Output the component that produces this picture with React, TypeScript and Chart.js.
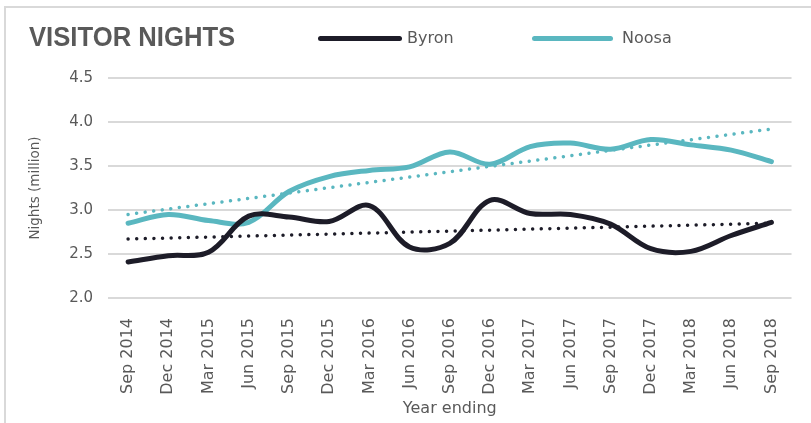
import React, { useEffect, useRef } from 'react';
import { Chart, registerables } from 'chart.js';

Chart.register(...registerables);

const categories = [
  'Sep 2014', 'Dec 2014', 'Mar 2015', 'Jun 2015', 'Sep 2015', 'Dec 2015',
  'Mar 2016', 'Jun 2016', 'Sep 2016', 'Dec 2016', 'Mar 2017', 'Jun 2017',
  'Sep 2017', 'Dec 2017', 'Mar 2018', 'Jun 2018', 'Sep 2018',
];

const byron = [2.41, 2.48, 2.52, 2.93, 2.92, 2.87, 3.05, 2.58, 2.62, 3.11, 2.96, 2.95, 2.84, 2.56, 2.53, 2.71, 2.86];
const noosa = [2.85, 2.95, 2.88, 2.86, 3.21, 3.38, 3.45, 3.49, 3.66, 3.52, 3.72, 3.76, 3.69, 3.8, 3.74, 3.68, 3.55];

// Linear trendlines: value at first and last category
const byronTrendEnds = [2.67, 2.85];
const noosaTrendEnds = [2.95, 3.92];

const yMin = 2.0;
const yMax = 4.5;
const yStep = 0.5;

const BYRON = '#1d1c28';
const NOOSA = '#5ab7c0';
const GREY = '#595959';
const GRID = '#d9d9d9';

const trend = (ends: number[]) =>
  categories.map((_, i) => (i === 0 ? ends[0] : i === categories.length - 1 ? ends[1] : null));

export default function App() {
  const ref = useRef<HTMLCanvasElement>(null);

  useEffect(() => {
    const chart = new Chart(ref.current as HTMLCanvasElement, {
      type: 'line',
      data: {
        labels: categories,
        datasets: [
          {
            label: 'Byron trend',
            data: trend(byronTrendEnds),
            borderColor: BYRON,
            borderWidth: 3.5,
            borderDash: [0.01, 8.6],
            borderCapStyle: 'round',
            spanGaps: true,
            pointRadius: 0,
            tension: 0,
            order: 0,
          },
          {
            label: 'Noosa trend',
            data: trend(noosaTrendEnds),
            borderColor: NOOSA,
            borderWidth: 3.5,
            borderDash: [0.01, 8.6],
            borderCapStyle: 'round',
            spanGaps: true,
            pointRadius: 0,
            tension: 0,
            order: 0,
          },
          {
            label: 'Byron',
            data: byron,
            borderColor: BYRON,
            backgroundColor: BYRON,
            borderWidth: 5,
            borderCapStyle: 'round',
            borderJoinStyle: 'round',
            pointRadius: 0,
            tension: 0.35,
            order: 1,
          },
          {
            label: 'Noosa',
            data: noosa,
            borderColor: NOOSA,
            backgroundColor: NOOSA,
            borderWidth: 5,
            borderCapStyle: 'round',
            borderJoinStyle: 'round',
            pointRadius: 0,
            tension: 0.35,
            order: 1,
          },
        ],
      },
      options: {
        animation: false,
        responsive: false,
        maintainAspectRatio: false,
        layout: { padding: { left: 0, right: 13, top: 78, bottom: 0 } },
        plugins: {
          legend: { display: false },
          title: { display: false },
          tooltip: { enabled: false },
        },
        scales: {
          x: {
            offset: true,
            grid: { display: false, drawTicks: false, offset: true },
            border: { display: false },
            ticks: {
              color: GREY,
              font: { family: 'DejaVu Sans', size: 16 },
              minRotation: 90,
              maxRotation: 90,
              padding: 20,
              autoSkip: false,
            },
            title: {
              display: true,
              text: 'Year ending',
              color: GREY,
              font: { family: 'DejaVu Sans', size: 16 },
              padding: { top: 0, bottom: 5 },
            },
            afterFit: (scale: any) => {
              scale.height = 125;
            },
          },
          y: {
            min: yMin,
            max: yMax,
            grid: { color: GRID, lineWidth: 2, drawTicks: false },
            border: { display: false },
            ticks: {
              stepSize: yStep,
              color: GREY,
              font: { family: 'DejaVu Sans', size: 15 },
              padding: 15,
              callback: (v: any) => Number(v).toFixed(1),
            },
            title: {
              display: true,
              text: 'Nights (million)',
              color: GREY,
              font: { family: 'DejaVu Sans', size: 13.5 },
              padding: { top: 27, bottom: 0 },
            },
            afterFit: (scale: any) => {
              scale.width = 108;
            },
          },
        },
      },
    });
    return () => chart.destroy();
  }, []);

  return (
    <div style={{ position: 'fixed', left: 0, top: 0, width: 811, height: 423, background: '#fff', overflow: 'hidden' }}>
      <div style={{ position: 'absolute', left: 4, top: 6, width: 830, height: 440, border: `2px solid ${GRID}`, boxSizing: 'border-box' }} />
      <canvas ref={ref} width={811} height={423} style={{ position: 'absolute', left: 0, top: 0 }} />
      <div
        style={{
          position: 'absolute', left: 29, top: 24, fontFamily: '"Liberation Sans", Arial, sans-serif', fontWeight: 'bold',
          fontSize: 27, lineHeight: '27px', color: GREY, whiteSpace: 'nowrap', transform: 'scaleX(0.95)', transformOrigin: 'left top',
        }}
      >
        VISITOR NIGHTS
      </div>
      <div style={{ position: 'absolute', left: 318, top: 35.5, width: 84, height: 5, borderRadius: 3, background: BYRON }} />
      <div style={{ position: 'absolute', left: 407, top: 28, fontFamily: '"DejaVu Sans", sans-serif', fontSize: 16, lineHeight: '20px', color: GREY }}>Byron</div>
      <div style={{ position: 'absolute', left: 532, top: 35.5, width: 81, height: 5, borderRadius: 3, background: NOOSA }} />
      <div style={{ position: 'absolute', left: 622, top: 28, fontFamily: '"DejaVu Sans", sans-serif', fontSize: 16, lineHeight: '20px', color: GREY }}>Noosa</div>
    </div>
  );
}
